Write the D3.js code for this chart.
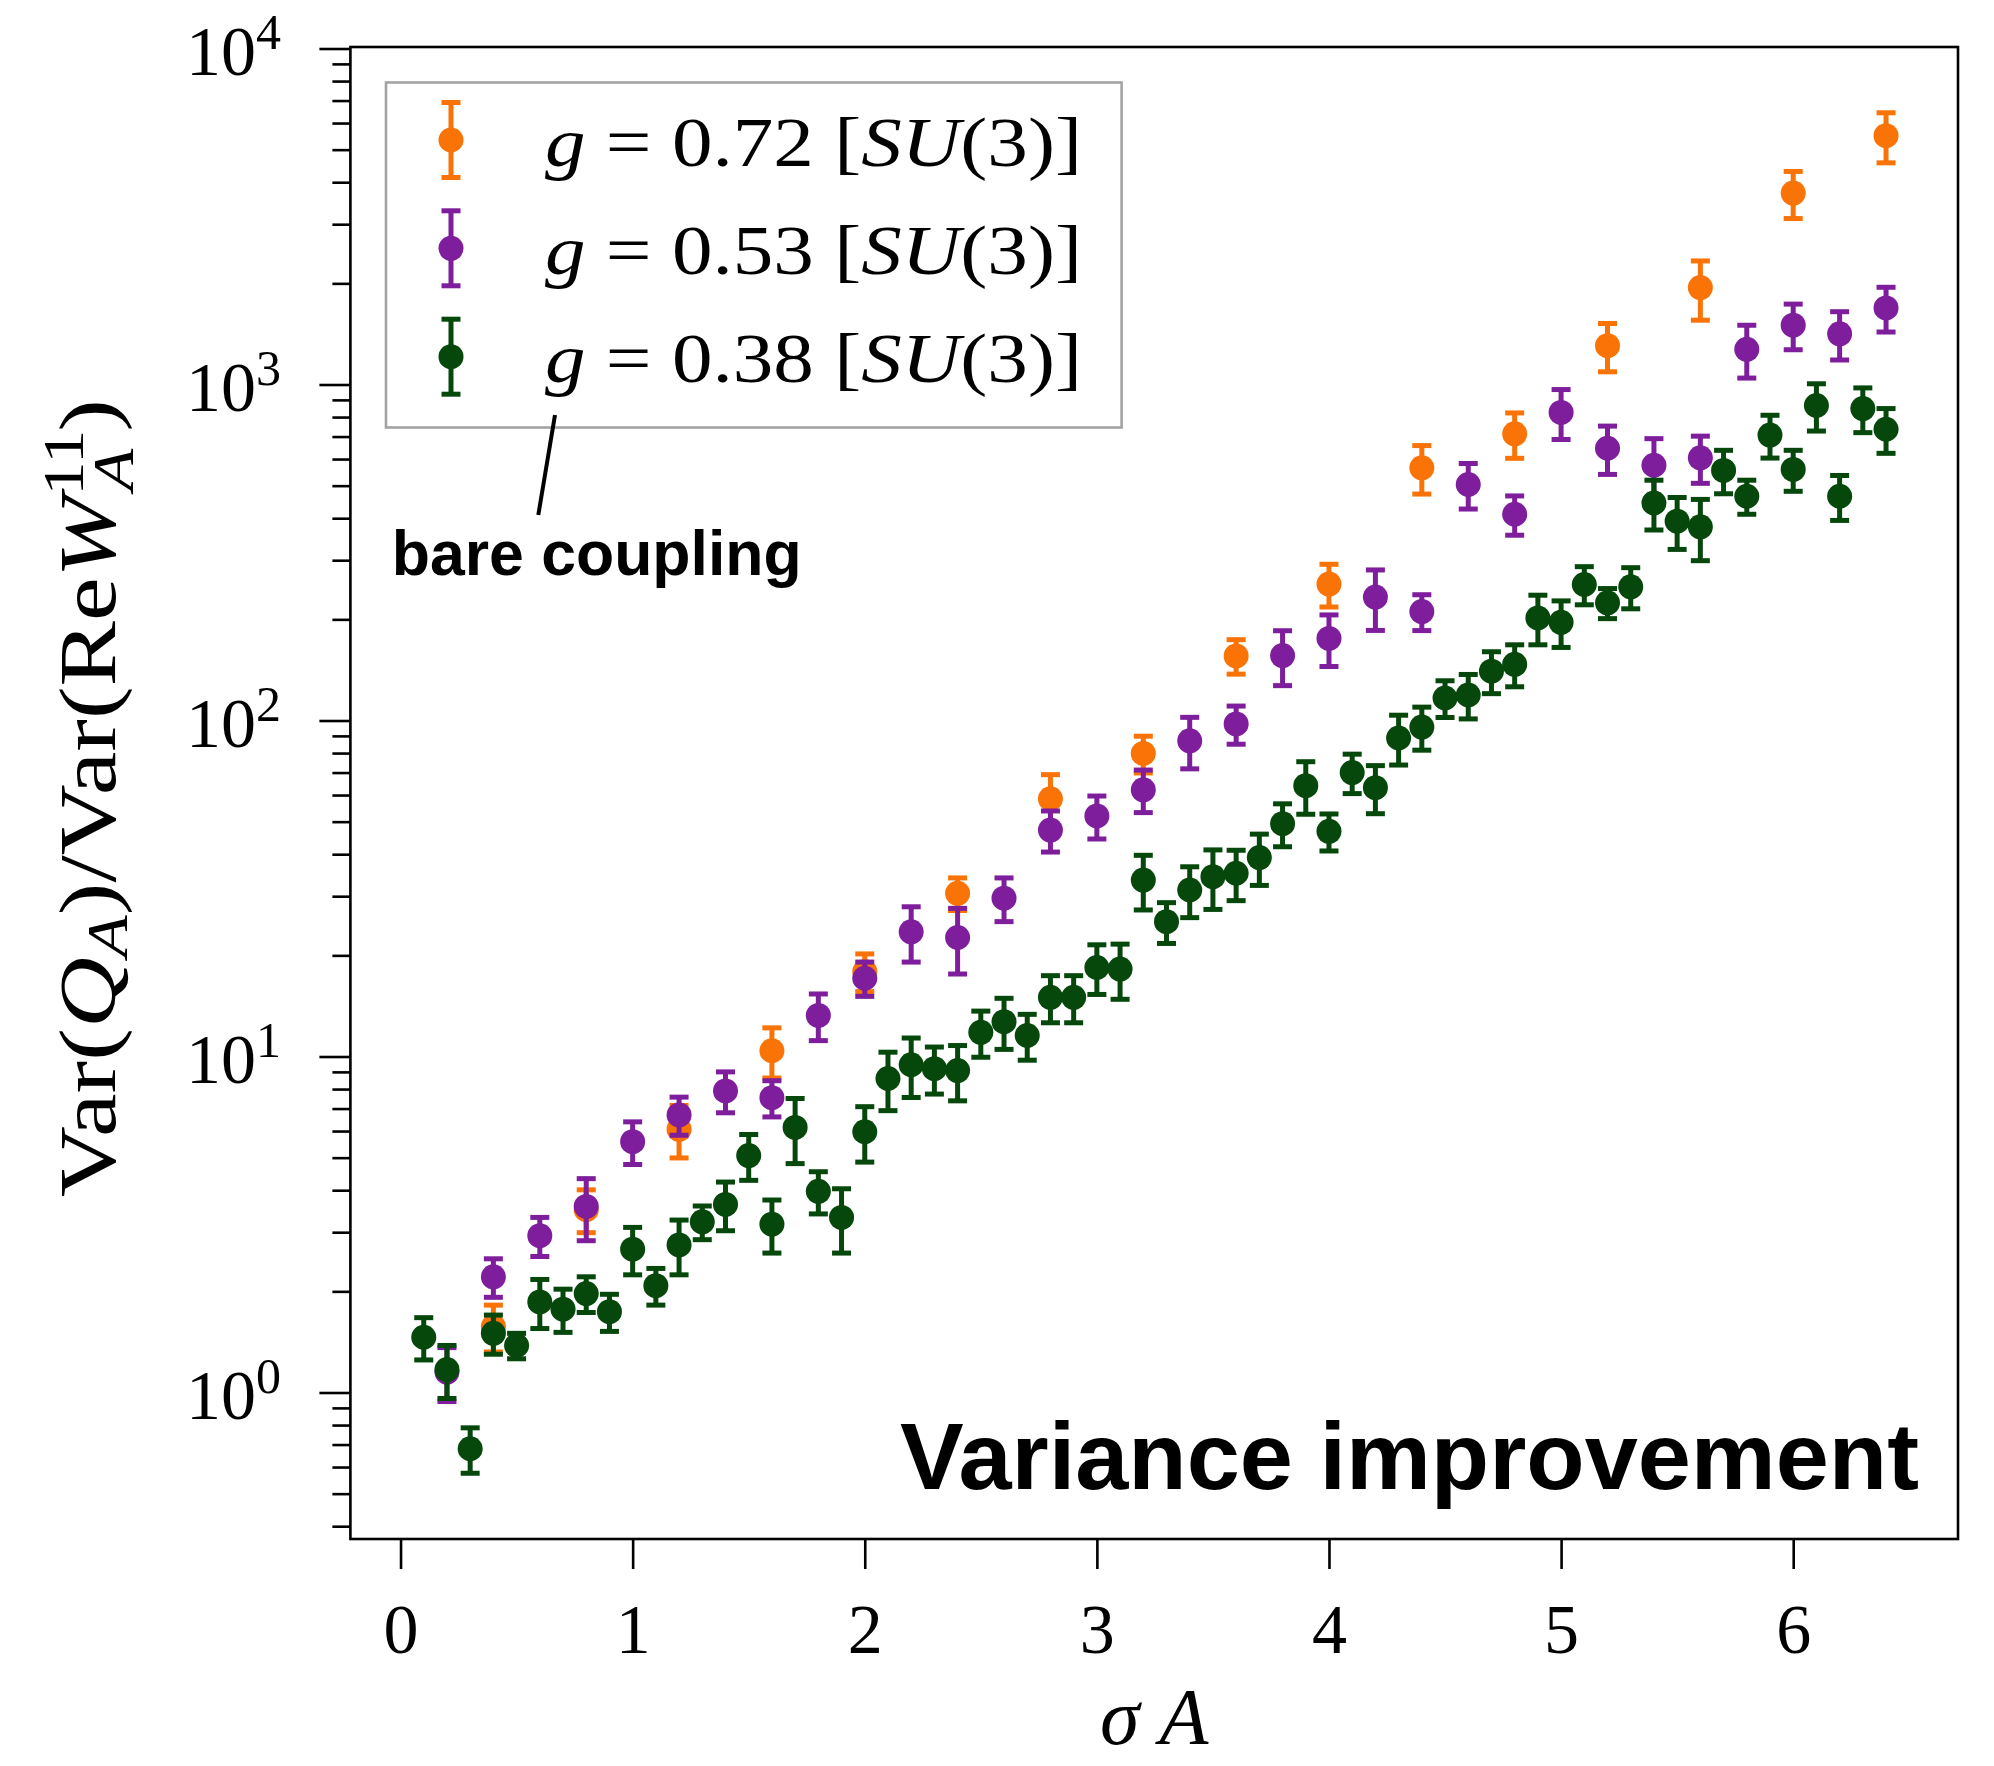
<!DOCTYPE html>
<html><head><meta charset="utf-8">
<script src="https://cdn.jsdelivr.net/npm/d3@7"></script>
<style>html,body{margin:0;padding:0;background:#fff}svg{display:block}</style>
</head><body>
<script>
// ---------- data ----------
const seriesNames = ["0.72", "0.53", "0.38"];
const seriesColors = ["#f97306", "#7e1e9c", "#06470c"];

const xOrange = [0.4,0.8,1.2,1.6,2.0,2.4,2.8,3.2,3.6,4.0,4.4,4.8,5.2,5.6,6.0,6.4];
const yOrange = [1.57,3.50,6.07,10.4,17.9,30.6,58.5,79.8,155.7,254.7,565,713,1305,1943,3712,5503];
const eOrange = [0.25,0.51,1.08,1.77,2.3,3.4,10.5,10,18.3,37,93,110,214,389,594,935];

const xPurple = [0.2,0.4,0.6,0.8,1.0,1.2,1.4,1.6,1.8,2.0,2.2,2.4,2.6,2.8,3.0,3.2,3.4,3.6,3.8,4.0,4.2,4.4,4.6,4.8,5.0,5.2,5.4,5.6,5.8,6.0,6.2,6.4];
const yPurple = [1.15,2.21,2.93,3.58,5.58,6.70,7.90,7.54,13.25,17.1,23.5,22.6,29.6,47.2,52.0,62.2,87.0,97.7,156,175.5,233,211,504,411,826,646,575,605,1273,1502,1415,1690];
const ePurple = [0.21,0.29,0.39,0.75,0.81,0.87,1.1,0.93,2.1,2.0,4.4,5.0,4.4,6.6,7.6,9.0,15.2,12.7,29,30.7,47.6,25.8,78,55,140,106,115,97,228,233,232,257];

const xGreen = [0.1,0.2,0.3,0.4,0.5,0.6,0.7,0.8,0.9,1.0,1.1,1.2,1.3,1.4,1.5,1.6,1.7,1.8,1.9,2.0,2.1,2.2,2.3,2.4,2.5,2.6,2.7,2.8,2.9,3.0,3.1,3.2,3.3,3.4,3.5,3.6,3.7,3.8,3.9,4.0,4.1,4.2,4.3,4.4,4.5,4.6,4.7,4.8,4.9,5.0,5.1,5.2,5.3,5.4,5.5,5.6,5.7,5.8,5.9,6.0,6.1,6.2,6.3,6.4];
const yGreen = [1.46,1.17,0.68,1.50,1.38,1.86,1.77,1.97,1.74,2.67,2.08,2.75,3.22,3.63,5.07,3.17,6.15,3.97,3.32,5.97,8.6,9.45,9.2,9.08,11.8,12.7,11.55,15.0,15.0,18.4,18.2,33.5,25.2,31.3,34.3,35.1,39.1,49.3,64.0,46.8,70.0,63.1,88.7,95.6,116.7,119.1,140.2,147,202,196,254,224,250,444,392,377,555,465,707,559,866,465,848,736];
const eGreen = [0.21,0.21,0.105,0.20,0.12,0.31,0.26,0.24,0.22,0.43,0.26,0.51,0.37,0.60,0.79,0.57,1.35,0.57,0.72,1.12,1.7,1.9,1.47,1.7,1.85,2.2,1.8,2.4,2.4,3.1,3.4,6.2,3.5,5.4,6.9,6.0,6.8,7.2,11.4,5.9,9.4,10.3,15,14,14.6,18,20,21,34,31,33,23,35,75,69,78,82,54,103,78,139,71,129,112];

const xTicks = [0,1,2,3,4,5,6];
const yMajorTicks = [1,10,100,1000,10000];
const yMajorExp = ["0","1","2","3","4"];
const yMinorMult = [2,3,4,5,6,7,8,9];

// ---------- layout ----------
const W = 1994, H = 1766;
const L = 350.4, R = 1958, T = 47, B = 1539;
const serif = "'Liberation Serif','Times New Roman',serif";
const sans = "'Liberation Sans',Arial,Helvetica,sans-serif";

const svg = d3.select("body").append("svg").attr("width", W).attr("height", H)
  .attr("viewBox", `0 0 ${W} ${H}`);
svg.append("rect").attr("width", W).attr("height", H).attr("fill", "#fff");

const x = d3.scaleLinear().domain([-0.216, 6.710]).range([L, R]);
const y = d3.scaleLog().domain([Math.pow(10, -0.436), Math.pow(10, 4.0045)]).range([B, T]);

const [yLo, yHi] = y.domain();
const yMinor = [];
for (let k = -1; k <= 4; k++) for (const m of yMinorMult) {
  const v = m * Math.pow(10, k);
  if (v >= yLo && v <= yHi) yMinor.push(v);
}

const gyMaj = svg.append("g").attr("transform", `translate(${L},0)`)
  .call(d3.axisLeft(y).tickValues(yMajorTicks).tickSize(31).tickFormat(""));
const gyMin = svg.append("g").attr("transform", `translate(${L},0)`)
  .call(d3.axisLeft(y).tickValues(yMinor).tickSize(18).tickFormat(""));
[gyMaj, gyMin].forEach(g => {
  g.select(".domain").remove();
  g.selectAll(".tick line").attr("stroke", "#000").attr("stroke-width", 2.6);
});

const ylab = svg.append("g");
yMajorTicks.forEach((v, i) => {
  const t = ylab.append("text").attr("x", 281).attr("y", y(v) + 26)
    .attr("text-anchor", "end").attr("font-family", serif).attr("font-size", 70).attr("fill", "#000");
  t.append("tspan").text("10");
  t.append("tspan").attr("font-size", 50).attr("dy", -26).text(yMajorExp[i]);
});

const gx = svg.append("g").attr("transform", `translate(0,${B})`)
  .call(d3.axisBottom(x).tickValues(xTicks).tickSize(30).tickFormat(d3.format("d")));
gx.select(".domain").remove();
gx.selectAll(".tick line").attr("stroke", "#000").attr("stroke-width", 2.6);
gx.selectAll(".tick text").attr("y", 114).attr("dy", 0)
  .attr("font-family", serif).attr("font-size", 70).attr("fill", "#000");

svg.append("rect").attr("x", L).attr("y", T).attr("width", R - L).attr("height", B - T)
  .attr("fill", "none").attr("stroke", "#000").attr("stroke-width", 2.6);

const series = [
  {xs: xOrange, ys: yOrange, es: eOrange},
  {xs: xPurple, ys: yPurple, es: ePurple},
  {xs: xGreen, ys: yGreen, es: eGreen}
];
const capHW = 9.5, sw = 5, rad = 12.5;
const plot = svg.append("g");
series.forEach((s, si) => {
  const col = seriesColors[si];
  const pts = s.xs.map((xv, i) => ({x: xv, y: s.ys[i], e: s.es[i]}));
  const g = plot.append("g");
  const eb = g.selectAll("g.eb").data(pts).enter().append("g")
    .attr("stroke", col).attr("stroke-width", sw);
  eb.append("line").attr("x1", d => x(d.x)).attr("x2", d => x(d.x))
    .attr("y1", d => y(d.y + d.e)).attr("y2", d => y(Math.max(d.y - d.e, 1e-3)));
  eb.append("line").attr("x1", d => x(d.x) - capHW).attr("x2", d => x(d.x) + capHW)
    .attr("y1", d => y(d.y + d.e)).attr("y2", d => y(d.y + d.e));
  eb.append("line").attr("x1", d => x(d.x) - capHW).attr("x2", d => x(d.x) + capHW)
    .attr("y1", d => y(d.y - d.e)).attr("y2", d => y(d.y - d.e));
  g.selectAll("circle").data(pts).enter().append("circle")
    .attr("cx", d => x(d.x)).attr("cy", d => y(d.y)).attr("r", rad).attr("fill", col);
});

const lg = svg.append("g");
lg.append("rect").attr("x", 386).attr("y", 82.5).attr("width", 735.6).attr("height", 345)
  .attr("fill", "#fff").attr("stroke", "#a3a3a3").attr("stroke-width", 2.6);
const legY = [140, 248.3, 356.7];
seriesNames.forEach((nm, i) => {
  const cy = legY[i], cx = 451, col = seriesColors[i];
  const e = lg.append("g").attr("stroke", col).attr("stroke-width", sw);
  e.append("line").attr("x1", cx).attr("x2", cx).attr("y1", cy - 37.5).attr("y2", cy + 37.5);
  e.append("line").attr("x1", cx - capHW).attr("x2", cx + capHW).attr("y1", cy - 37.5).attr("y2", cy - 37.5);
  e.append("line").attr("x1", cx - capHW).attr("x2", cx + capHW).attr("y1", cy + 37.5).attr("y2", cy + 37.5);
  lg.append("circle").attr("cx", cx).attr("cy", cy).attr("r", rad).attr("fill", col);
  const tg = lg.append("g").attr("transform", `translate(545,${cy + 25.7})`);
  const t = tg.append("text").attr("x", 0).attr("y", 0).attr("font-family", serif)
    .attr("font-size", 70).attr("fill", "#000");
  t.append("tspan").attr("font-style", "italic").text("g");
  t.append("tspan").text(" = " + nm + " [");
  t.append("tspan").attr("font-style", "italic").text("SU");
  t.append("tspan").text("(3)]");
  const w = t.node().getComputedTextLength();
  tg.attr("transform", `translate(545,${cy + 25.7}) scale(${537 / w},1)`);
});

svg.append("line").attr("x1", 555).attr("y1", 415).attr("x2", 538.3).attr("y2", 515)
  .attr("stroke", "#000").attr("stroke-width", 4);
svg.append("text").attr("x", 391.7).attr("y", 575).attr("font-family", sans)
  .attr("font-weight", "bold").attr("font-size", 63).attr("fill", "#000")
  .attr("textLength", 410).attr("lengthAdjust", "spacingAndGlyphs").text("bare coupling");
svg.append("text").attr("x", 1919).attr("y", 1489).attr("text-anchor", "end").attr("font-family", sans)
  .attr("font-weight", "bold").attr("font-size", 94).attr("fill", "#000")
  .attr("textLength", 1019).attr("lengthAdjust", "spacingAndGlyphs").text("Variance improvement");

svg.append("text").attr("x", (L + R) / 2).attr("y", 1744).attr("text-anchor", "middle")
  .attr("font-family", serif).attr("font-size", 80).attr("font-style", "italic").attr("fill", "#000")
  .text("σ A");

const ylg = svg.append("g").attr("transform", `translate(115,798) rotate(-90)`);
const ylt = ylg.append("text").attr("x", 0).attr("y", 0).attr("text-anchor", "middle")
  .attr("font-family", serif).attr("font-size", 80).attr("fill", "#000");
ylt.append("tspan").text("Var(");
ylt.append("tspan").attr("font-style", "italic").text("Q");
ylt.append("tspan").attr("font-style", "italic").attr("font-size", 56).attr("dy", 12).text("A");
ylt.append("tspan").attr("dy", -12).text(")/Var(Re");
ylt.append("tspan").attr("font-style", "italic").text("W");
ylt.append("tspan").attr("font-size", 56).attr("dy", -32).text("11");
ylt.append("tspan").attr("font-style", "italic").attr("font-size", 56).attr("dx", -50).attr("dy", 50).text("A");
ylt.append("tspan").attr("dx", 14).attr("dy", -18).text(")");
const yw = ylt.node().getBBox().width;
ylg.attr("transform", `translate(115,798) rotate(-90) scale(${798 / yw},1)`);
</script>
</body></html>
